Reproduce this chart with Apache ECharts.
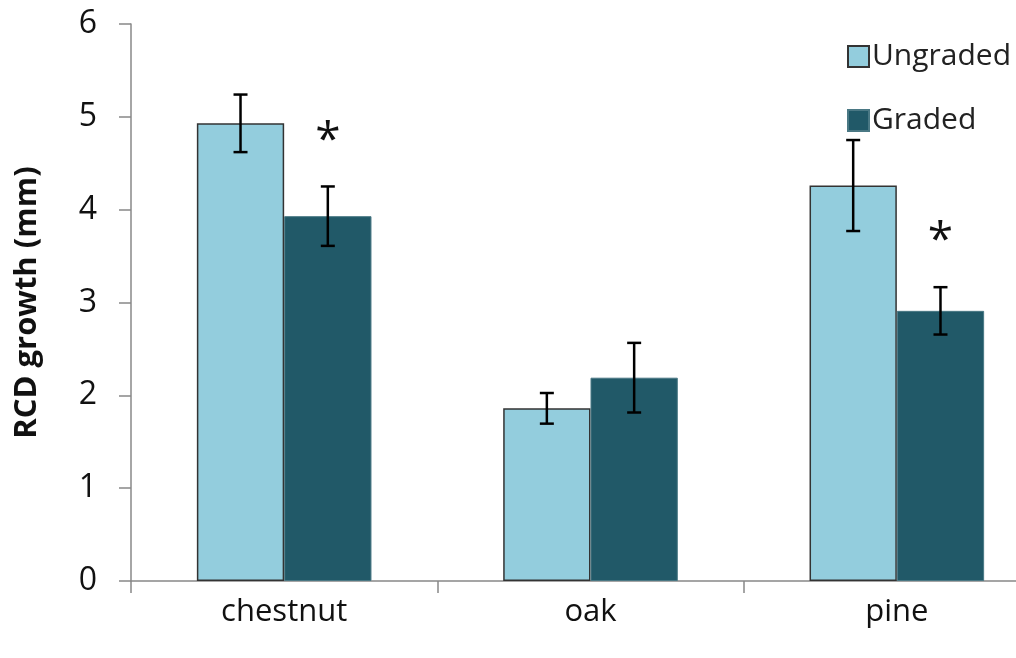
<!DOCTYPE html>
<html>
<head>
<meta charset="utf-8">
<script src="https://cdn.jsdelivr.net/npm/echarts@6/dist/echarts.min.js"></script>
<style>
  html, body { margin: 0; padding: 0; background: #fff; overflow: hidden; }
  #chart { width: 1100px; height: 658px; }
</style>
</head>
<body>
<div id="chart"></div>
<script>
// RCD growth by species, ungraded vs graded
const categories = ['chestnut', 'oak', 'pine'];
const ungraded = [4.93, 1.86, 4.26];
const ungradedErr = [0.31, 0.165, 0.49];
const graded = [3.93, 2.19, 2.91];
const gradedErr = [0.32, 0.375, 0.255];
const gradedSignificant = [true, false, true];
const yTicks = [0, 1, 2, 3, 4, 5, 6];

const FONT = '"Open Sans", "Noto Sans", sans-serif';
const CAT_GAP = 0.43;

function errorData(values, errs, sig) {
  return values.map((v, i) => [i, v - errs[i], v + errs[i], sig ? (sig[i] ? 1 : 0) : 0]);
}

function errorSeries(name, values, errs, side, sig) {
  return {
    type: 'custom',
    name: name + ' error',
    z: 10,
    silent: true,
    data: errorData(values, errs, sig),
    encode: { x: 0, y: [1, 2] },
    renderItem: function (params, api) {
      const band = api.size([1, 0])[0];
      const barW = band * (1 - CAT_GAP) / 2;
      const lo = api.coord([api.value(0), api.value(1)]);
      const hi = api.coord([api.value(0), api.value(2)]);
      const x = lo[0] + side * barW / 2;
      const cap = 7;
      const style = { stroke: '#000', lineWidth: 2.5 };
      const children = [
        { type: 'line', shape: { x1: x, y1: hi[1], x2: x, y2: lo[1] }, style: style },
        { type: 'line', shape: { x1: x - cap, y1: hi[1], x2: x + cap, y2: hi[1] }, style: style },
        { type: 'line', shape: { x1: x - cap, y1: lo[1], x2: x + cap, y2: lo[1] }, style: style }
      ];
      if (api.value(3)) {
        // significance marker above the upper cap
        children.push({
          type: 'text',
          style: {
            text: '*', x: x, y: hi[1] - 45,
            align: 'center', verticalAlign: 'middle',
            fontSize: 46, fontFamily: FONT, fill: '#111'
          }
        });
      }
      return { type: 'group', children: children };
    }
  };
}

const chart = echarts.init(document.getElementById('chart'), null, { renderer: 'canvas' });
chart.setOption({
  animation: false,
  backgroundColor: '#fff',
  grid: { left: 131, top: 24, width: 919, height: 557, outerBoundsMode: 'none', containLabel: false },
  legend: {
    orient: 'vertical',
    left: 842,
    top: 36,
    itemWidth: 21,
    itemHeight: 21,
    itemGap: 33,
    icon: 'rect',
    data: ['Ungraded', 'Graded'],
    textStyle: {
      fontSize: 30, lineHeight: 31, fontFamily: FONT, color: '#222',
      padding: [0, 0, 0, -2]
    }
  },
  xAxis: {
    type: 'category',
    data: categories,
    axisLine: { lineStyle: { color: '#888', width: 1.5 } },
    axisTick: { show: true, length: 12, lineStyle: { color: '#888', width: 1.5 } },
    axisLabel: { fontSize: 31, fontFamily: FONT, color: '#111', margin: 16 }
  },
  yAxis: {
    type: 'value',
    min: 0,
    max: 6,
    interval: 1,
    name: 'RCD growth (mm)',
    nameLocation: 'middle',
    nameRotate: 90,
    nameGap: 88,
    nameTextStyle: { fontSize: 31, fontWeight: 'bold', fontFamily: FONT, color: '#111' },
    axisLine: { show: true, lineStyle: { color: '#888', width: 1.5 } },
    axisTick: { show: true, length: 12, lineStyle: { color: '#888', width: 1.5 } },
    splitLine: { show: false },
    axisLabel: {
      fontSize: 32, fontFamily: FONT, color: '#111', margin: 34,
      formatter: function (v) { return yTicks.indexOf(v) >= 0 ? String(v) : ''; }
    }
  },
  series: [
    {
      name: 'Ungraded',
      type: 'bar',
      data: ungraded,
      barGap: '0%',
      barCategoryGap: (CAT_GAP * 100) + '%',
      itemStyle: { color: '#93CDDD', borderColor: '#333', borderWidth: 1.5 }
    },
    {
      name: 'Graded',
      type: 'bar',
      data: graded,
      barGap: '0%',
      barCategoryGap: (CAT_GAP * 100) + '%',
      itemStyle: { color: '#215968', borderColor: '#4a7884', borderWidth: 1 }
    },
    errorSeries('Ungraded', ungraded, ungradedErr, -1, null),
    errorSeries('Graded', graded, gradedErr, 1, gradedSignificant)
  ]
});
</script>
</body>
</html>
